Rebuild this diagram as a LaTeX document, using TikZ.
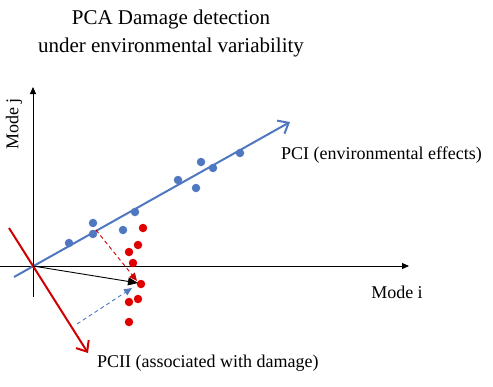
\documentclass[tikz,border=0pt]{standalone}
\usepackage{fontspec}
\setmainfont{Liberation Serif}
\usetikzlibrary{arrows.meta}
\definecolor{pcblue}{RGB}{79,120,192}
\definecolor{pcred}{RGB}{208,0,0}
\definecolor{dotred}{RGB}{225,0,0}
\begin{document}
\begin{tikzpicture}[x=1pt,y=-1pt,
  lbl/.style={font=\fontsize{18}{21}\selectfont, inner sep=0pt},
  bdot/.style={circle, fill=pcblue, inner sep=0pt, minimum size=8.5pt},
  rdot/.style={circle, fill=dotred, inner sep=0pt, minimum size=8.5pt},
  axis/.style={line width=0.8pt, -{Triangle[length=7pt,width=6pt]}},
  pcarrow/.style={line width=2pt, -{Straight Barb[length=9pt,width=15pt,line width=2pt]}},
  dasharrow/.style={line width=0.9pt, dashed, dash pattern=on 4pt off 3pt, -{Triangle[length=8pt,width=7pt]}}]
\useasboundingbox (0,0) rectangle (493,386);
% title
\node[lbl, font=\fontsize{21}{28}\selectfont, align=center] (title) at (171,33) {PCA Damage detection\\under environmental variability};
% axes
\coordinate (O) at (33,266);
\coordinate (xs) at (0,266);
\coordinate (xe) at (409,266);
\coordinate (ys) at (33,297);
\coordinate (ye) at (33,87);
\draw[axis] (xs) -- (xe);
\draw[axis] (ys) -- (ye);
\node[lbl] (modei) at (397,292) {Mode i};
\node[lbl, rotate=90] (modej) at (14,124) {Mode j};
% PC I
\coordinate (b0) at (14,277);
\coordinate (b1) at (290,122);
\draw[pcarrow, pcblue] (b0) -- (b1);
\node[lbl, anchor=west] (pci) at (281,155) {PCI (environmental effects)};
% PC II
\coordinate (r0) at (9,228);
\coordinate (r1) at (88,353);
\draw[pcarrow, pcred] (r0) -- (r1);
\node[lbl, anchor=west] (pcii) at (97,363) {PCII (associated with damage)};
% blue dots
\foreach \x/\y [count=\i] in {69/243, 93/223, 93/234, 123/230, 135/212, 178/180, 201/162, 213/168, 240/153, 196/188}
  \node[bdot] (bd\i) at (\x,\y) {};
% red dots
\foreach \x/\y [count=\i] in {143/228, 138/245, 129/252, 133/263, 141/284, 138/299, 129/302, 129/322}
  \node[rdot] (rd\i) at (\x,\y) {};
% projections
\coordinate (p0) at (96,230);
\coordinate (p1) at (137,281);
\draw[dasharrow, pcred] (p0) -- (p1);
\coordinate (q0) at (77,324);
\coordinate (q1) at (132,288);
\draw[dasharrow, pcblue] (q0) -- (q1);
% damage vector
\coordinate (d1) at (138,283);
\draw[line width=0.9pt, -{Triangle[length=10pt,width=8pt]}] (O) -- (d1);
\end{tikzpicture}
\end{document}
